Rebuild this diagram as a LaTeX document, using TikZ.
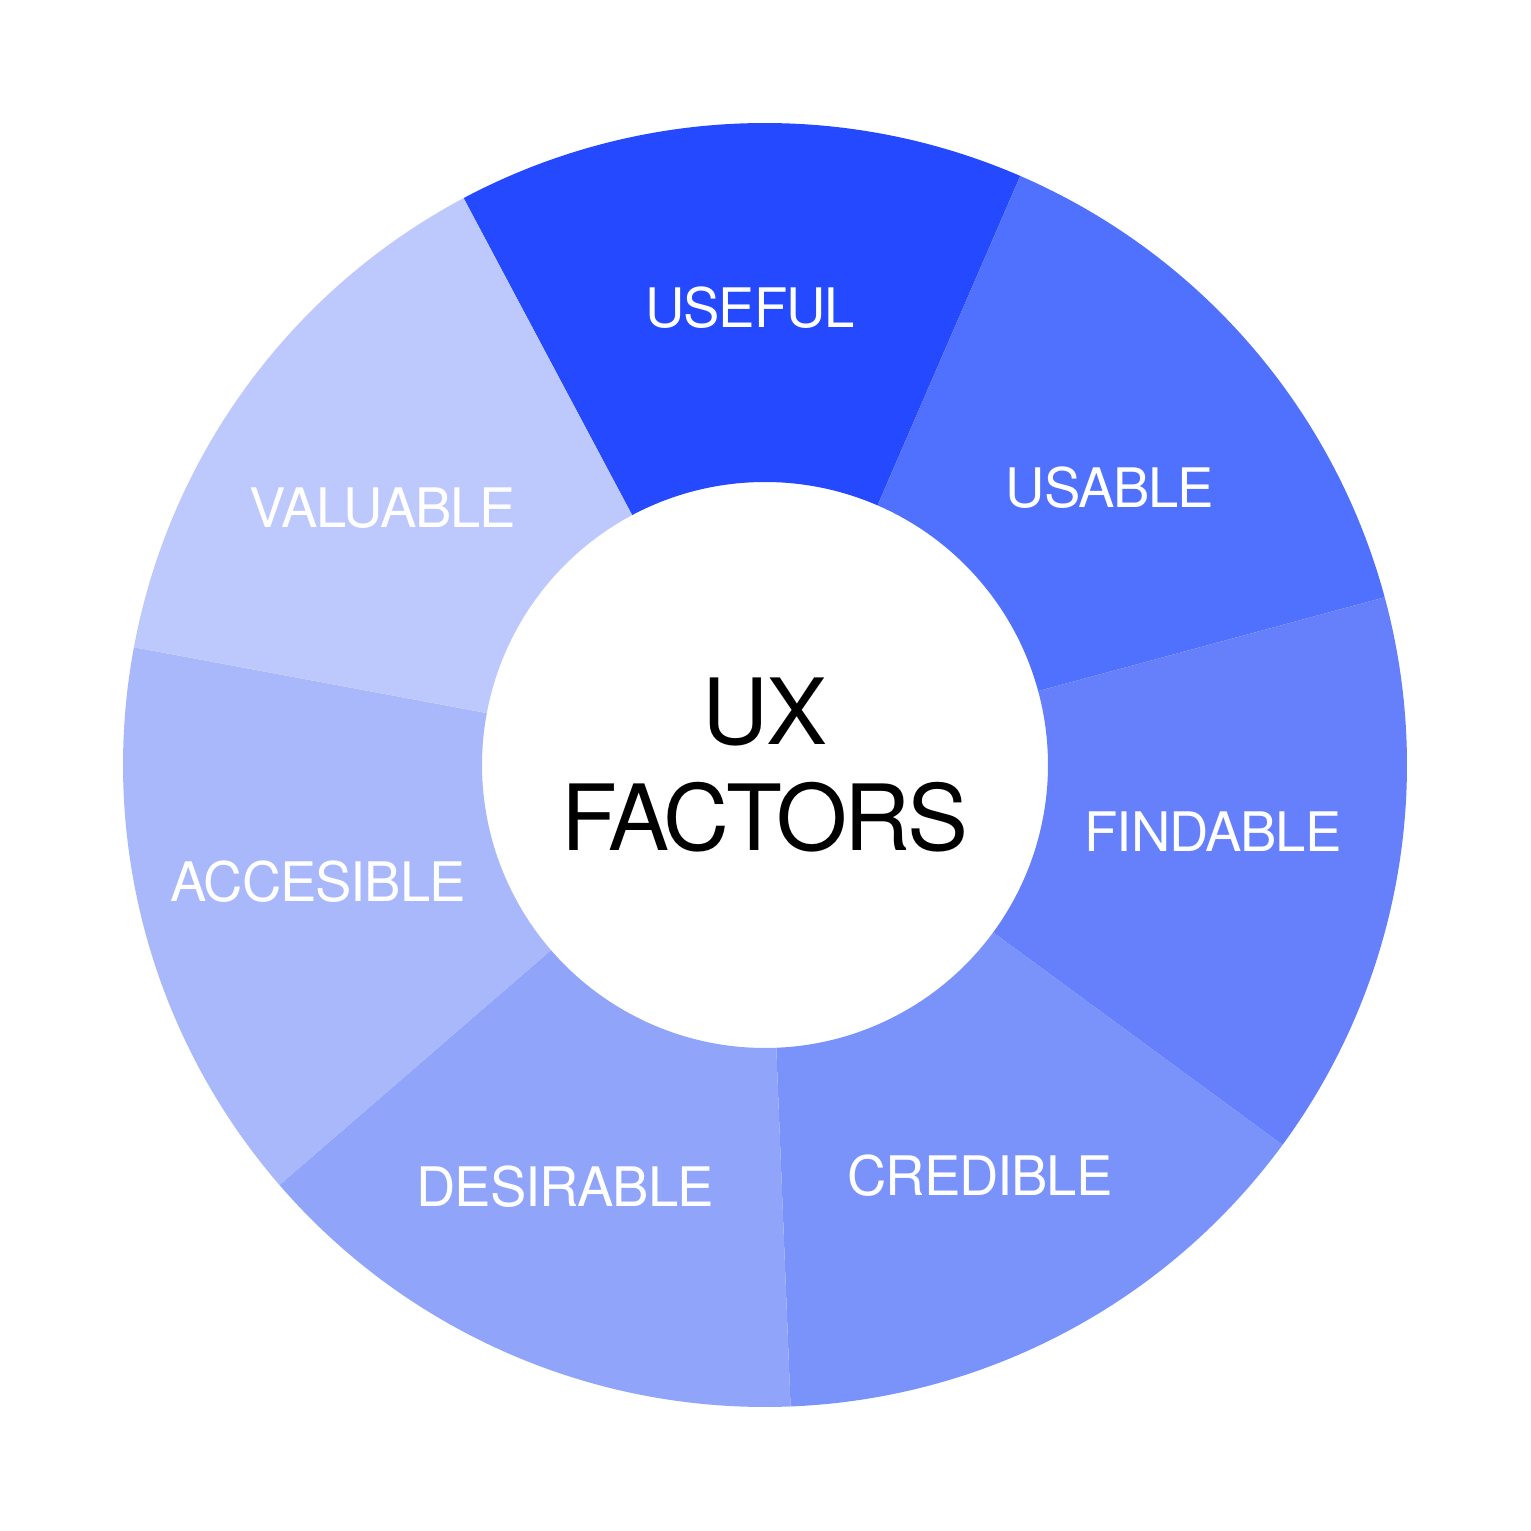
\documentclass[tikz,border=0pt]{standalone}
\usepackage{fontspec}
\setmainfont{TeX Gyre Heros}
\usepackage{tikz}
\usetikzlibrary{positioning}

\definecolor{cUseful}{HTML}{2449FE}
\definecolor{cUsable}{HTML}{5070FE}
\definecolor{cFindable}{HTML}{6680FC}
\definecolor{cCredible}{HTML}{7A93FB}
\definecolor{cDesirable}{HTML}{90A4FA}
\definecolor{cAccesible}{HTML}{A8B8FB}
\definecolor{cValuable}{HTML}{BDC8FD}

\begin{document}
\begin{tikzpicture}[
      factor/.style = {text=white, inner sep=0pt,
        font=\addfontfeatures{LetterSpace=-2}\fontsize{15.5}{18}\selectfont},
      hub/.style = {align=center, inner sep=0pt,
        font=\addfontfeatures{LetterSpace=-3}\fontsize{26}{30.4}\selectfont}]
    \useasboundingbox (-7.65,-7.66) rectangle (7.65,7.65);
    % ring segments
    \foreach \col [count=\i from 0] in {cUseful,cUsable,cFindable,cCredible,cDesirable,cAccesible,cValuable}{
      \pgfmathsetmacro{\sa}{118-\i*360/7}
      \pgfmathsetmacro{\ea}{\sa-360/7}
      \fill[\col] (\sa:2.83) -- (\sa:6.42) arc[start angle=\sa, end angle=\ea, radius=6.42]
        -- (\ea:2.83) arc[start angle=\ea, end angle=\sa, radius=2.83] -- cycle;
    }
    \node[hub] (center) at (0,0) {UX\\FACTORS};
    \node[factor] (useful) at (-0.15,4.57) {USEFUL};
    \node[factor] (usable) at (3.45,2.77) {USABLE};
    \node[factor] (findable) at (4.48,-0.67) {FINDABLE};
    \node[factor] (credible) at (2.15,-4.11) {CREDIBLE};
    \node[factor] (desirable) at (-2.00,-4.22) {DESIRABLE};
    \node[factor] (accesible) at (-4.47,-1.17) {ACCESIBLE};
    \node[factor] (valuable) at (-3.82,2.57) {VALUABLE};
\end{tikzpicture}
\end{document}
